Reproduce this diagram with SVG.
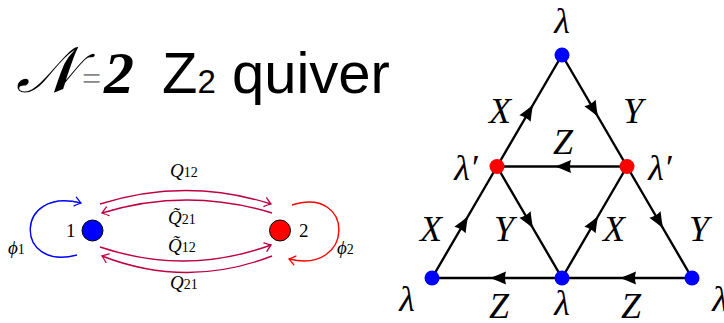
<svg xmlns="http://www.w3.org/2000/svg" width="724" height="323" viewBox="0 0 724 323">
<style>
.m{font-family:"Liberation Serif","DejaVu Serif",serif;font-style:italic;fill:#000}
.r{font-family:"Liberation Serif","DejaVu Serif",serif;fill:#000}
.big{font-size:36px}
.sm{font-size:19px}
.e{stroke:#000;stroke-width:2.4;fill:none}
.q{stroke:#BF0040;stroke-width:1.4;fill:none}
</style>
<defs>
<marker id="tri" markerUnits="userSpaceOnUse" viewBox="-12 -8 24 16" markerWidth="24" markerHeight="16" refX="0" refY="0" orient="auto">
<path d="M7 0 Q0 -2.5 -9 -6.5 Q-7 0 -9 6.5 Q0 2.5 7 0 Z" fill="#000"/>
</marker>
<marker id="to" markerUnits="userSpaceOnUse" viewBox="-8 -6 10 12" markerWidth="10" markerHeight="12" refX="0" refY="0" orient="auto">
<path d="M-6 -4.5 Q-1.5 -1 0 0 Q-1.5 1 -6 4.5" fill="none" stroke="#BF0040" stroke-width="1.3" stroke-linecap="round"/>
</marker>
<marker id="toB" markerUnits="userSpaceOnUse" viewBox="-8 -6 10 12" markerWidth="10" markerHeight="12" refX="0" refY="0" orient="auto">
<path d="M-6 -4.5 Q-1.5 -1 0 0 Q-1.5 1 -6 4.5" fill="none" stroke="#0000FF" stroke-width="1.3" stroke-linecap="round"/>
</marker>
<marker id="toR" markerUnits="userSpaceOnUse" viewBox="-8 -6 10 12" markerWidth="10" markerHeight="12" refX="0" refY="0" orient="auto">
<path d="M-6 -4.5 Q-1.5 -1 0 0 Q-1.5 1 -6 4.5" fill="none" stroke="#FF0000" stroke-width="1.3" stroke-linecap="round"/>
</marker>
</defs>
<rect width="724" height="323" fill="#fff"/>

<g id="title">
<text x="16" y="92" style="font-family:'DejaVu Serif','Noto Sans',serif;font-size:64px;font-style:italic">𝒩</text>
<text x="82" y="90" style="font-family:'Liberation Serif',serif;font-size:34px;fill:#888">=</text>
<text x="104" y="93" style="font-family:'Liberation Serif',serif;font-size:60px;font-style:italic;font-weight:bold">2</text>
<text x="162" y="93" style="font-family:'Liberation Sans',Arial,sans-serif;font-size:58px">Z<tspan font-size="33">2</tspan> quiver</text>
</g>

<g id="quiver-edges">
<path class="q" d="M100 204 Q186 177 271 204" marker-end="url(#to)"/>
<path class="q" d="M272 213 Q187 187 102 213" marker-end="url(#to)"/>
<path class="q" d="M100 247 Q186 276 271 245" marker-end="url(#to)"/>
<path class="q" d="M272 256 Q187 289 102 256" marker-end="url(#to)"/>
<path d="M77 255 C14 272 14 186 81 203" fill="none" stroke="#0000FF" stroke-width="1.4" marker-end="url(#toB)"/>
<path d="M292 205 C355 185 355 275 289 259" fill="none" stroke="#FF0000" stroke-width="1.4" marker-end="url(#toR)"/>
</g>
<g id="quiver-labels">
<text class="m sm" x="170" y="177">Q<tspan class="r" font-size="14" font-style="normal">12</tspan></text>
<text class="m sm" x="168" y="224">Q̃<tspan class="r" font-size="14" font-style="normal">21</tspan></text>
<text class="m sm" x="168" y="252">Q̃<tspan class="r" font-size="14" font-style="normal">12</tspan></text>
<text class="m sm" x="170" y="289">Q<tspan class="r" font-size="14" font-style="normal">21</tspan></text>
<text class="m sm" x="8" y="254">ϕ<tspan class="r" font-size="14" font-style="normal">1</tspan></text>
<text class="m sm" x="337" y="254">ϕ<tspan class="r" font-size="14" font-style="normal">2</tspan></text>
</g>
<g id="node1">
<circle cx="92.5" cy="230.5" r="10.5" fill="#0000FF" stroke="#000" stroke-width="1"/>
<text class="r sm" x="66" y="237">1</text>
</g>
<g id="node2">
<circle cx="280" cy="230.5" r="10.5" fill="#FF0000" stroke="#000" stroke-width="1"/>
<text class="r sm" x="299" y="237">2</text>
</g>

<g id="tri-edges">
<polyline class="e" points="432,278 464.5,222.25 497,166.5" marker-mid="url(#tri)"/>
<polyline class="e" points="497,166.5 529.5,110.75 562,55" marker-mid="url(#tri)"/>
<polyline class="e" points="562,55 594.5,110.75 627,166.5" marker-mid="url(#tri)"/>
<polyline class="e" points="627,166.5 659.5,222.25 692,278" marker-mid="url(#tri)"/>
<polyline class="e" points="627,166.5 562,166.5 497,166.5" marker-mid="url(#tri)"/>
<polyline class="e" points="497,166.5 529.5,222.25 562,278" marker-mid="url(#tri)"/>
<polyline class="e" points="562,278 594.5,222.25 627,166.5" marker-mid="url(#tri)"/>
<polyline class="e" points="692,278 627,278 562,278" marker-mid="url(#tri)"/>
<polyline class="e" points="562,278 497,278 432,278" marker-mid="url(#tri)"/>
</g>
<g id="tri-labels">
<text class="m big" x="500" y="123" text-anchor="middle">X</text>
<text class="m big" x="633" y="123" text-anchor="middle">Y</text>
<text class="m big" x="563" y="154" text-anchor="middle">Z</text>
<text class="m big" x="431" y="241" text-anchor="middle">X</text>
<text class="m big" x="504" y="241" text-anchor="middle">Y</text>
<text class="m big" x="614" y="241" text-anchor="middle">X</text>
<text class="m big" x="699" y="241" text-anchor="middle">Y</text>
<text class="m big" x="499" y="318" text-anchor="middle">Z</text>
<text class="m big" x="631" y="318" text-anchor="middle">Z</text>
</g>
<g id="v-top">
<circle cx="562" cy="55" r="7.5" fill="#0000FF"/>
<text class="m big" x="562" y="33" text-anchor="middle">λ</text>
</g>
<g id="v-midleft">
<circle cx="497" cy="166.5" r="7.5" fill="#FF0000"/>
<text class="m big" x="466" y="180" text-anchor="middle">λ′</text>
</g>
<g id="v-midright">
<circle cx="627" cy="166.5" r="7.5" fill="#FF0000"/>
<text class="m big" x="660" y="180" text-anchor="middle">λ′</text>
</g>
<g id="v-botleft">
<circle cx="432" cy="278" r="7.5" fill="#0000FF"/>
<text class="m big" x="407" y="311" text-anchor="middle">λ</text>
</g>
<g id="v-botmid">
<circle cx="562" cy="278" r="7.5" fill="#0000FF"/>
<text class="m big" x="562" y="315" text-anchor="middle">λ</text>
</g>
<g id="v-botright">
<circle cx="692" cy="278" r="7.5" fill="#0000FF"/>
<text class="m big" x="720" y="311" text-anchor="middle">λ</text>
</g>
</svg>
